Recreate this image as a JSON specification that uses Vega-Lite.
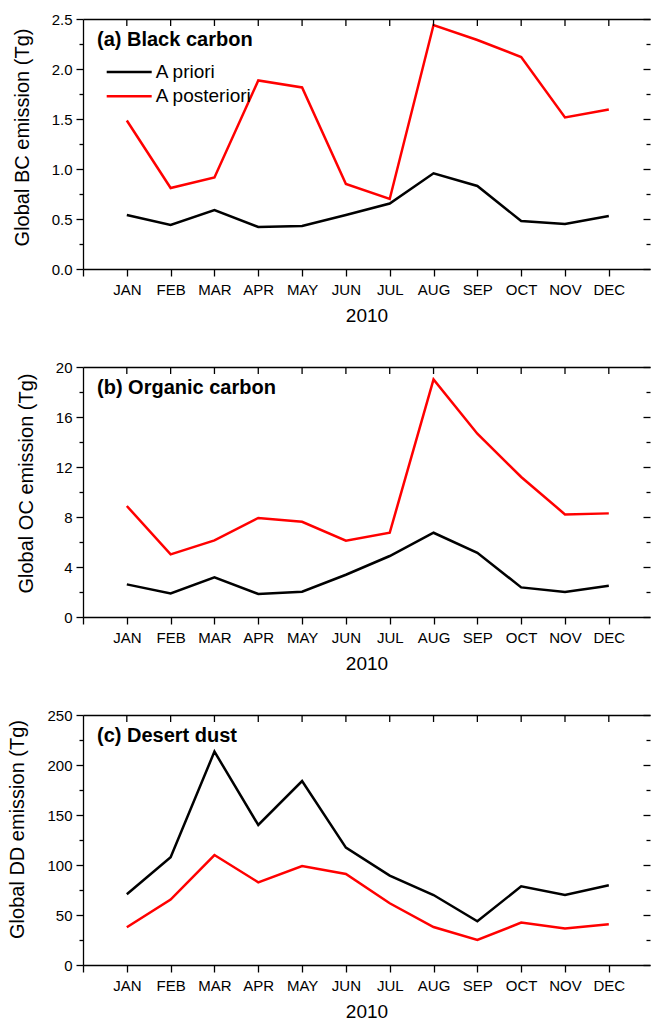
{
  "$schema": "https://vega.github.io/schema/vega-lite/v6.json",
  "padding": {"left": 7, "top": 12, "right": 0, "bottom": 0},
  "bounds": "flush",
  "spacing": 98,
  "config": {
    "font": "Liberation Sans",
    "view": {"stroke": null},
    "axis": {"grid": false, "domainColor": "#000000", "domainWidth": 1.3, "tickColor": "#000000", "tickWidth": 1.3, "labelColor": "#000000", "titleColor": "#000000", "labelFontSize": 15, "titleFontSize": 20, "titleFontWeight": "normal", "labelFont": "Liberation Sans", "titleFont": "Liberation Sans"},
    "legend": {"title": null, "orient": "none", "legendX": 36.7, "legendY": 43.5, "symbolType": "M-3,0H3", "symbolSize": 225, "symbolStrokeWidth": 2.5, "labelFontSize": 19, "labelOffset": 17, "rowPadding": 4.3, "padding": 0, "labelColor": "#000000", "labelFont": "Liberation Sans", "labelLimit": 0},
    "title": {"anchor": "start", "frame": "group", "offset": -38, "dx": 14, "fontSize": 20, "fontWeight": "bold", "baseline": "alphabetic", "color": "#000000", "font": "Liberation Sans"}
  },
  "data": {"values": [
    {"panel": "BC", "series": "A priori", "m": 1, "v": 0.54},
    {"panel": "BC", "series": "A priori", "m": 2, "v": 0.44},
    {"panel": "BC", "series": "A priori", "m": 3, "v": 0.59},
    {"panel": "BC", "series": "A priori", "m": 4, "v": 0.42},
    {"panel": "BC", "series": "A priori", "m": 5, "v": 0.43},
    {"panel": "BC", "series": "A priori", "m": 6, "v": 0.54},
    {"panel": "BC", "series": "A priori", "m": 7, "v": 0.655},
    {"panel": "BC", "series": "A priori", "m": 8, "v": 0.957},
    {"panel": "BC", "series": "A priori", "m": 9, "v": 0.83},
    {"panel": "BC", "series": "A priori", "m": 10, "v": 0.48},
    {"panel": "BC", "series": "A priori", "m": 11, "v": 0.45},
    {"panel": "BC", "series": "A priori", "m": 12, "v": 0.53},
    {"panel": "BC", "series": "A posteriori", "m": 1, "v": 1.485},
    {"panel": "BC", "series": "A posteriori", "m": 2, "v": 0.81},
    {"panel": "BC", "series": "A posteriori", "m": 3, "v": 0.915},
    {"panel": "BC", "series": "A posteriori", "m": 4, "v": 1.885},
    {"panel": "BC", "series": "A posteriori", "m": 5, "v": 1.815},
    {"panel": "BC", "series": "A posteriori", "m": 6, "v": 0.85},
    {"panel": "BC", "series": "A posteriori", "m": 7, "v": 0.70},
    {"panel": "BC", "series": "A posteriori", "m": 8, "v": 2.44},
    {"panel": "BC", "series": "A posteriori", "m": 9, "v": 2.29},
    {"panel": "BC", "series": "A posteriori", "m": 10, "v": 2.12},
    {"panel": "BC", "series": "A posteriori", "m": 11, "v": 1.515},
    {"panel": "BC", "series": "A posteriori", "m": 12, "v": 1.595},
    {"panel": "OC", "series": "A priori", "m": 1, "v": 2.61},
    {"panel": "OC", "series": "A priori", "m": 2, "v": 1.89},
    {"panel": "OC", "series": "A priori", "m": 3, "v": 3.17},
    {"panel": "OC", "series": "A priori", "m": 4, "v": 1.84},
    {"panel": "OC", "series": "A priori", "m": 5, "v": 2.02},
    {"panel": "OC", "series": "A priori", "m": 6, "v": 3.38},
    {"panel": "OC", "series": "A priori", "m": 7, "v": 4.88},
    {"panel": "OC", "series": "A priori", "m": 8, "v": 6.74},
    {"panel": "OC", "series": "A priori", "m": 9, "v": 5.14},
    {"panel": "OC", "series": "A priori", "m": 10, "v": 2.37},
    {"panel": "OC", "series": "A priori", "m": 11, "v": 2.0},
    {"panel": "OC", "series": "A priori", "m": 12, "v": 2.5},
    {"panel": "OC", "series": "A posteriori", "m": 1, "v": 8.88},
    {"panel": "OC", "series": "A posteriori", "m": 2, "v": 5.01},
    {"panel": "OC", "series": "A posteriori", "m": 3, "v": 6.13},
    {"panel": "OC", "series": "A posteriori", "m": 4, "v": 7.92},
    {"panel": "OC", "series": "A posteriori", "m": 5, "v": 7.62},
    {"panel": "OC", "series": "A posteriori", "m": 6, "v": 6.10},
    {"panel": "OC", "series": "A posteriori", "m": 7, "v": 6.74},
    {"panel": "OC", "series": "A posteriori", "m": 8, "v": 19.0},
    {"panel": "OC", "series": "A posteriori", "m": 9, "v": 14.66},
    {"panel": "OC", "series": "A posteriori", "m": 10, "v": 11.2},
    {"panel": "OC", "series": "A posteriori", "m": 11, "v": 8.21},
    {"panel": "OC", "series": "A posteriori", "m": 12, "v": 8.29},
    {"panel": "DD", "series": "A priori", "m": 1, "v": 70.7},
    {"panel": "DD", "series": "A priori", "m": 2, "v": 107.7},
    {"panel": "DD", "series": "A priori", "m": 3, "v": 213.4},
    {"panel": "DD", "series": "A priori", "m": 4, "v": 140},
    {"panel": "DD", "series": "A priori", "m": 5, "v": 184},
    {"panel": "DD", "series": "A priori", "m": 6, "v": 117.4},
    {"panel": "DD", "series": "A priori", "m": 7, "v": 89.4},
    {"panel": "DD", "series": "A priori", "m": 8, "v": 70},
    {"panel": "DD", "series": "A priori", "m": 9, "v": 43.7},
    {"panel": "DD", "series": "A priori", "m": 10, "v": 78.7},
    {"panel": "DD", "series": "A priori", "m": 11, "v": 70},
    {"panel": "DD", "series": "A priori", "m": 12, "v": 79.7},
    {"panel": "DD", "series": "A posteriori", "m": 1, "v": 37.7},
    {"panel": "DD", "series": "A posteriori", "m": 2, "v": 65.4},
    {"panel": "DD", "series": "A posteriori", "m": 3, "v": 110},
    {"panel": "DD", "series": "A posteriori", "m": 4, "v": 82.7},
    {"panel": "DD", "series": "A posteriori", "m": 5, "v": 99},
    {"panel": "DD", "series": "A posteriori", "m": 6, "v": 91},
    {"panel": "DD", "series": "A posteriori", "m": 7, "v": 61.7},
    {"panel": "DD", "series": "A posteriori", "m": 8, "v": 38},
    {"panel": "DD", "series": "A posteriori", "m": 9, "v": 25},
    {"panel": "DD", "series": "A posteriori", "m": 10, "v": 42.4},
    {"panel": "DD", "series": "A posteriori", "m": 11, "v": 36.4},
    {"panel": "DD", "series": "A posteriori", "m": 12, "v": 40.7}
  ]},
  "vconcat": [
    {
      "width": 567, "height": 250,
      "transform": [{"filter": "datum.panel == 'BC'"}],
      "title": {"text": "(a) Black carbon"},
      "layer": [
        {
          "mark": {"type": "line", "strokeWidth": 2.5},
          "encoding": {
            "x": {"field": "m", "type": "quantitative", "scale": {"domain": [0, 12.94], "nice": false, "zero": false},
                  "axis": {"orient": "bottom", "values": [0,1,2,3,4,5,6,7,8,9,10,11,12], "labelExpr": "['','JAN','FEB','MAR','APR','MAY','JUN','JUL','AUG','SEP','OCT','NOV','DEC'][datum.value]", "tickSize": 7, "labelPadding": 6, "title": "2010", "titleFontSize": 19, "titlePadding": 9}},
            "y": {"field": "v", "type": "quantitative", "scale": {"domain": [0, 2.5], "nice": false},
                  "axis": {"orient": "left", "values": [0,0.25,0.5,0.75,1,1.25,1.5,1.75,2,2.25,2.5], "labelExpr": "datum.value % 0.5 == 0 ? format(datum.value, '.1f') : ''", "tickSize": {"condition": {"test": "datum.value % 0.5 == 0", "value": 7}, "value": 4}, "labelPadding": 4, "title": "Global BC emission (Tg)", "titlePadding": 19, "titleY": 118}},
            "color": {"field": "series", "type": "nominal", "scale": {"domain": ["A priori", "A posteriori"], "range": ["#000000", "#ff0000"]}}
          }
        },
        {
          "mark": {"type": "line", "strokeOpacity": 0},
          "encoding": {
            "x": {"field": "m", "type": "quantitative", "axis": {"orient": "top", "values": [1,2,3,4,5,6,7,8,9,10,11,12], "labels": false, "ticks": false, "title": null}},
            "y": {"field": "v", "type": "quantitative", "axis": {"orient": "right", "values": [0,0.25,0.5,0.75,1,1.25,1.5,1.75,2,2.25,2.5], "labels": false, "domain": false, "tickSize": {"condition": {"test": "datum.value % 0.5 == 0", "value": -7}, "value": -4}, "title": null}},
            "detail": {"field": "series"}
          }
        },
        {
          "transform": [{"filter": "datum.series == 'A priori'"}],
          "mark": {"type": "rule", "color": "#000000", "strokeWidth": 1.3},
          "encoding": {
            "x": {"field": "m", "type": "quantitative", "axis": null},
            "y": {"datum": 2.5, "type": "quantitative", "axis": null},
            "y2": {"datum": 2.43}
          }
        }
      ],
      "resolve": {"axis": {"x": "independent", "y": "independent"}}
    },
    {
      "width": 567, "height": 250,
      "transform": [{"filter": "datum.panel == 'OC'"}],
      "title": {"text": "(b) Organic carbon"},
      "layer": [
        {
          "mark": {"type": "line", "strokeWidth": 2.5},
          "encoding": {
            "x": {"field": "m", "type": "quantitative", "scale": {"domain": [0, 12.94], "nice": false, "zero": false},
                  "axis": {"orient": "bottom", "values": [0,1,2,3,4,5,6,7,8,9,10,11,12], "labelExpr": "['','JAN','FEB','MAR','APR','MAY','JUN','JUL','AUG','SEP','OCT','NOV','DEC'][datum.value]", "tickSize": 7, "labelPadding": 6, "title": "2010", "titleFontSize": 19, "titlePadding": 9}},
            "y": {"field": "v", "type": "quantitative", "scale": {"domain": [0, 20], "nice": false},
                  "axis": {"orient": "left", "values": [0,2,4,6,8,10,12,14,16,18,20], "labelExpr": "datum.value % 4 == 0 ? format(datum.value, 'd') : ''", "tickSize": {"condition": {"test": "datum.value % 4 == 0", "value": 7}, "value": 4}, "labelPadding": 4, "title": "Global OC emission (Tg)", "titlePadding": 19, "titleY": 116}},
            "color": {"field": "series", "type": "nominal", "scale": {"domain": ["A priori", "A posteriori"], "range": ["#000000", "#ff0000"]}}
          }
        },
        {
          "mark": {"type": "line", "strokeOpacity": 0},
          "encoding": {
            "x": {"field": "m", "type": "quantitative", "axis": {"orient": "top", "values": [1,2,3,4,5,6,7,8,9,10,11,12], "labels": false, "ticks": false, "title": null}},
            "y": {"field": "v", "type": "quantitative", "axis": {"orient": "right", "values": [0,2,4,6,8,10,12,14,16,18,20], "labels": false, "domain": false, "tickSize": {"condition": {"test": "datum.value % 4 == 0", "value": -7}, "value": -4}, "title": null}},
            "detail": {"field": "series"}
          }
        },
        {
          "transform": [{"filter": "datum.series == 'A priori'"}],
          "mark": {"type": "rule", "color": "#000000", "strokeWidth": 1.3},
          "encoding": {
            "x": {"field": "m", "type": "quantitative", "axis": null},
            "y": {"datum": 20, "type": "quantitative", "axis": null},
            "y2": {"datum": 19.44}
          }
        }
      ],
      "resolve": {"axis": {"x": "independent", "y": "independent"}}
    },
    {
      "width": 567, "height": 250,
      "transform": [{"filter": "datum.panel == 'DD'"}],
      "title": {"text": "(c) Desert dust"},
      "layer": [
        {
          "mark": {"type": "line", "strokeWidth": 2.5},
          "encoding": {
            "x": {"field": "m", "type": "quantitative", "scale": {"domain": [0, 12.94], "nice": false, "zero": false},
                  "axis": {"orient": "bottom", "values": [0,1,2,3,4,5,6,7,8,9,10,11,12], "labelExpr": "['','JAN','FEB','MAR','APR','MAY','JUN','JUL','AUG','SEP','OCT','NOV','DEC'][datum.value]", "tickSize": 7, "labelPadding": 6, "title": "2010", "titleFontSize": 19, "titlePadding": 9}},
            "y": {"field": "v", "type": "quantitative", "scale": {"domain": [0, 250], "nice": false},
                  "axis": {"orient": "left", "values": [0,25,50,75,100,125,150,175,200,225,250], "labelExpr": "datum.value % 50 == 0 ? format(datum.value, 'd') : ''", "tickSize": {"condition": {"test": "datum.value % 50 == 0", "value": 7}, "value": 4}, "labelPadding": 4, "title": "Global DD emission (Tg)", "titlePadding": 19, "titleY": 114}},
            "color": {"field": "series", "type": "nominal", "scale": {"domain": ["A priori", "A posteriori"], "range": ["#000000", "#ff0000"]}}
          }
        },
        {
          "mark": {"type": "line", "strokeOpacity": 0},
          "encoding": {
            "x": {"field": "m", "type": "quantitative", "axis": {"orient": "top", "values": [1,2,3,4,5,6,7,8,9,10,11,12], "labels": false, "ticks": false, "title": null}},
            "y": {"field": "v", "type": "quantitative", "axis": {"orient": "right", "values": [0,25,50,75,100,125,150,175,200,225,250], "labels": false, "domain": false, "tickSize": {"condition": {"test": "datum.value % 50 == 0", "value": -7}, "value": -4}, "title": null}},
            "detail": {"field": "series"}
          }
        },
        {
          "transform": [{"filter": "datum.series == 'A priori'"}],
          "mark": {"type": "rule", "color": "#000000", "strokeWidth": 1.3},
          "encoding": {
            "x": {"field": "m", "type": "quantitative", "axis": null},
            "y": {"datum": 250, "type": "quantitative", "axis": null},
            "y2": {"datum": 243}
          }
        }
      ],
      "resolve": {"axis": {"x": "independent", "y": "independent"}}
    }
  ]
}
